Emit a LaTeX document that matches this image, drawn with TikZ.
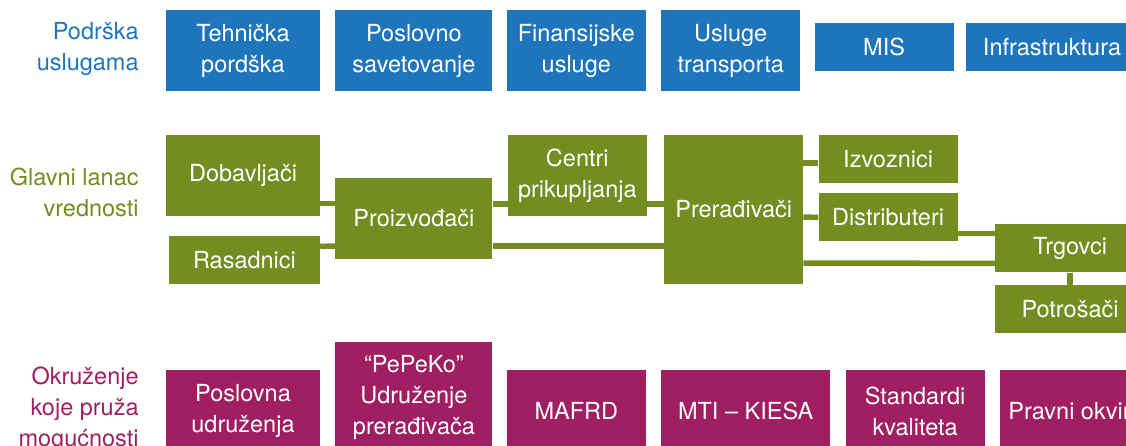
\documentclass[tikz,border=0pt]{standalone}
\usepackage{fontspec}
\setmainfont{TeX Gyre Heros}
\usetikzlibrary{positioning}
\definecolor{suppblue}{HTML}{1F75BC}
\definecolor{chaingreen}{HTML}{758C21}
\definecolor{envpurple}{HTML}{A01F62}

\begin{document}
\begin{tikzpicture}[x=1pt, y=1pt,
	box/.style={inner sep=0pt, align=center, text=white, font=\fontsize{23.5}{31}\selectfont},
	supp/.style={box, fill=suppblue},
	chain/.style={box, fill=chaingreen},
	env/.style={box, fill=envpurple},
	lbl/.style={inner sep=0pt, align=right, font=\fontsize{23.5}{31}\selectfont},
	link/.style={draw=chaingreen, line width=5.5pt}]
		\useasboundingbox (0,0) rectangle (1126,-445);
		\clip (0,0) rectangle (1126,-445);

		% podrska uslugama
		\node[supp, minimum width=154pt, minimum height=81pt] (teh) at (243,-50.5) {Tehnička\\pordška};
		\node[supp, minimum width=157pt, minimum height=81pt, right=15pt of teh] (sav) {Poslovno\\savetovanje};
		\node[supp, minimum width=139pt, minimum height=81pt, right=14pt of sav] (fin) {Finansijske\\usluge};
		\node[supp, minimum width=139pt, minimum height=81pt, right=15pt of fin] (tra) {Usluge\\transporta};
		\node[supp, minimum width=139pt, minimum height=48pt, right=14pt of tra, yshift=3.5pt] (mis) {MIS};
		\node[supp, minimum width=172pt, minimum height=48pt, right=12pt of mis] (inf) {Infrastruktura};
		\node[lbl, text=suppblue, left=27pt of teh, yshift=2pt] (lsupp) {Podrška\\uslugama};

		% glavni lanac vrednosti
		\node[chain, minimum width=154pt, minimum height=81pt] (dob) at (243,-175.5) {Dobavljači};
		\node[chain, minimum width=151pt, minimum height=48pt, below=20pt of dob.south east, anchor=north east] (ras) {Rasadnici};
		\node[chain, minimum width=157pt, minimum height=81pt, right=15pt of dob, yshift=-43pt] (pro) {Proizvođači};
		\node[chain, minimum width=139pt, minimum height=81pt, right=15pt of pro, yshift=43pt] (cen) {Centri\\prikupljanja};
		\node[chain, minimum width=139pt, minimum height=149pt, right=17pt of cen.north east, anchor=north west] (pre) {Prerađivači};
		\node[chain, minimum width=139pt, minimum height=48pt, right=15pt of pre.north east, anchor=north west] (izv) {Izvoznici};
		\node[chain, minimum width=139pt, minimum height=48pt, below=10pt of izv] (dis) {Distributeri};
		\node[chain, minimum width=150pt, minimum height=48pt, right=37pt of dis, yshift=-31pt] (trg) {Trgovci};
		\node[chain, minimum width=150pt, minimum height=48pt, below=12pt of trg] (pot) {Potrošači};
		\node[lbl, text=chaingreen, left=27pt of dob, yshift=-17pt] (lchain) {Glavni lanac\\vrednosti};

		\draw[link] ([yshift=-28pt]dob.east) -- ([yshift=15pt]pro.west);
		\draw[link] ([yshift=14pt]ras.east) -- ([yshift=-27.5pt]pro.west);
		\draw[link] ([yshift=14.5pt]pro.east) -- ([yshift=-28.5pt]cen.west);
		\draw[link] ([yshift=-28.5pt]cen.east) -- ([yshift=5.5pt]pre.west);
		\draw[link] ([yshift=-27.5pt]pro.east) -- ([yshift=-36.5pt]pre.west);
		\draw[link] ([yshift=46.5pt]pre.east) -- ([yshift=-4pt]izv.west);
		\draw[link] ([yshift=-7.5pt]pre.east) -- (dis.west);
		\draw[link] ([yshift=-16pt]dis.east) -- ([yshift=15pt]trg.west);
		\draw[link] ([yshift=-53.5pt]pre.east) -- ([yshift=-15pt]trg.west);
		\draw[link] (trg.south) -- (pot.north);

		% okruzenje
		\node[env, minimum width=154pt, minimum height=82pt] (posu) at (243,-411) {Poslovna\\udruženja};
		\node[env, minimum width=157pt, minimum height=110pt, right=15pt of posu.south east, anchor=south west] (pep) {“PePeKo”\\Udruženje\\prerađivača};
		\node[env, minimum width=139pt, minimum height=82pt, right=14pt of pep.south east, anchor=south west] (maf) {MAFRD};
		\node[env, minimum width=169pt, minimum height=82pt, right=15pt of maf] (mti) {MTI – KIESA};
		\node[env, minimum width=139pt, minimum height=82pt, right=15pt of mti] (std) {Standardi\\kvaliteta};
		\node[env, minimum width=139pt, minimum height=82pt, right=15pt of std] (prav) {Pravni okvir};
		\node[lbl, text=envpurple, left=27pt of posu, yshift=1.5pt] (lenv) {Okruženje\\koje pruža\\mogućnosti};
	\end{tikzpicture}
\end{document}
